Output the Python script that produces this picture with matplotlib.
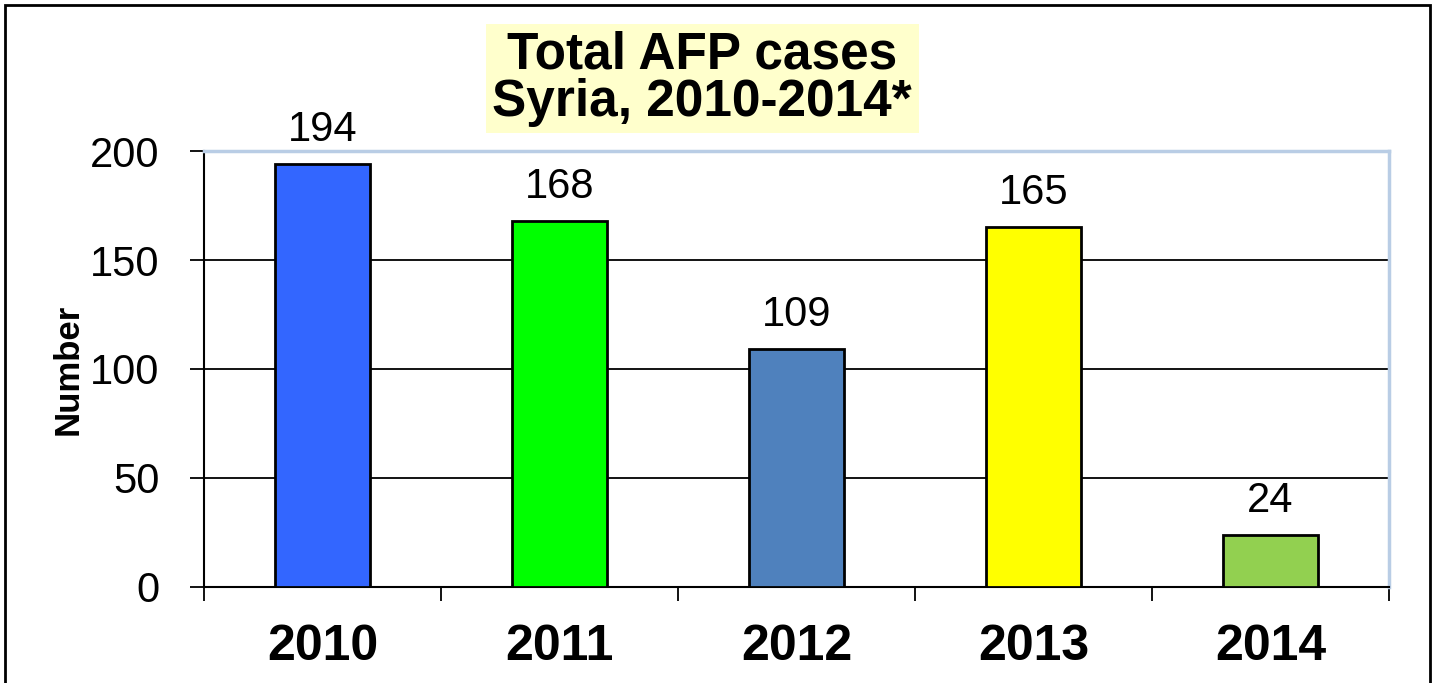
import matplotlib.pyplot as plt
from matplotlib.patches import Rectangle

plt.rcParams['font.family'] = ['Liberation Sans', 'DejaVu Sans']

# data
years = ['2010', '2011', '2012', '2013', '2014']
cases = [194, 168, 109, 165, 24]
colors = ['#3366FF', '#00FF00', '#4F81BD', '#FFFF00', '#92D050']

fig = plt.figure(figsize=(14.36, 6.83), dpi=100)
ax = fig.add_axes([0.1421, 0.1406, 0.8252, 0.6383])

x = range(len(years))
bars = ax.bar(x, cases, width=0.4, color=colors, edgecolor='black', linewidth=2, zorder=3)
for b, v in zip(bars, cases):
    ax.annotate(str(v), (b.get_x() + b.get_width() / 2, v), xytext=(0, 10),
                textcoords='offset points', ha='center', va='bottom', fontsize=30)

ax.set_xlim(-0.5, len(years) - 0.5)
ax.set_ylim(0, 200)
ax.set_yticks([0, 50, 100, 150, 200])
ax.tick_params(axis='y', labelsize=30, length=10, width=1.3, pad=22)
ax.set_xticks(list(x))
ax.set_xticklabels(years, fontsize=36, fontweight='bold')
ax.tick_params(axis='x', length=0, pad=27)
ax.set_xticks([i + 0.5 for i in range(-1, len(years))], minor=True)
ax.tick_params(axis='x', which='minor', length=10, width=1.3)

ax.yaxis.grid(True, color='black', linewidth=1.3, zorder=0)
ax.set_axisbelow(True)
for s in ['top', 'right']:
    ax.spines[s].set_color('#B9CDE5')
    ax.spines[s].set_linewidth(2.5)
for s in ['left', 'bottom']:
    ax.spines[s].set_color('black')
    ax.spines[s].set_linewidth(1.5)

ax.set_ylabel('Number', fontsize=25, fontweight='bold', labelpad=4)

fig.text(0.489, 0.885, 'Total AFP cases\nSyria, 2010-2014*', ha='center', va='center',
         fontsize=37, fontweight='bold', linespacing=0.95,
         bbox=dict(boxstyle='square,pad=0.13', facecolor='#FFFFCC', edgecolor='none'))

# outer frame
fig.patches.append(Rectangle((0.0035, -0.05), 0.9924, 1.043, transform=fig.transFigure,
                             fill=False, edgecolor='black', linewidth=2))

fig.savefig('out.png', dpi=100)
